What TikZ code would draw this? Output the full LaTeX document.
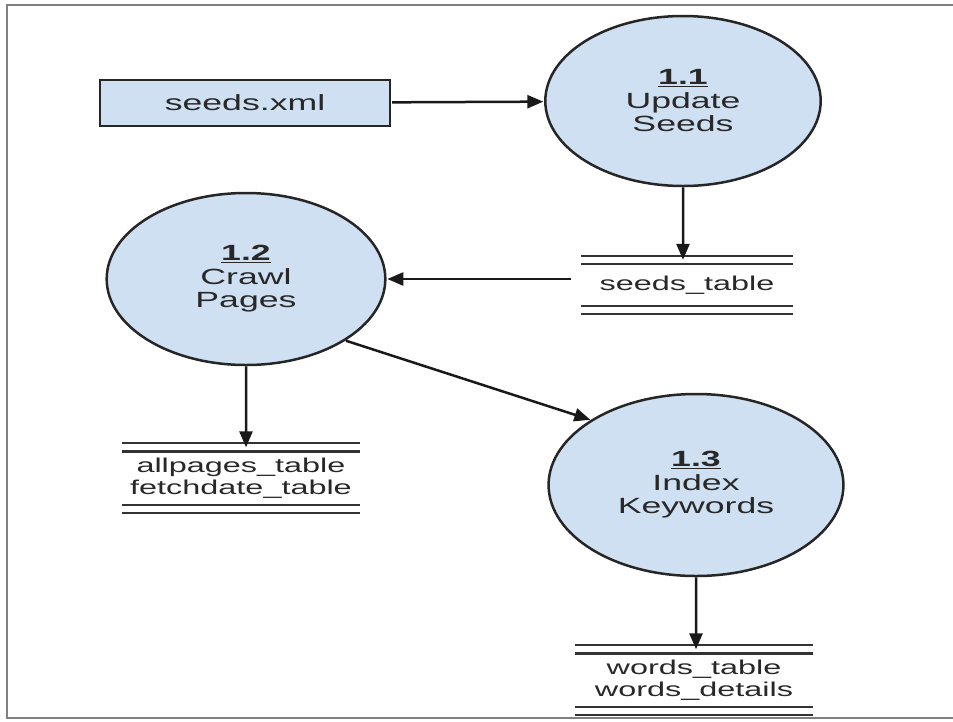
\documentclass[tikz,border=0pt]{standalone}
\usepackage{fontspec}
\setmainfont{Liberation Sans}
\usetikzlibrary{arrows.meta}
\definecolor{procblue}{RGB}{207,224,242}
\definecolor{inkgray}{RGB}{40,40,40}

\begin{document}
\begin{tikzpicture}[x = 1pt, y = -1pt,
	every node/.style = {text = inkgray, font = \fontsize{22}{23.5}\selectfont, xscale = 1.62, transform shape},
	process/.style = {circle, draw = black!85, line width = 2.5pt, fill = procblue, align = center, inner sep = 0pt},
	extent/.style = {rectangle, draw = black!85, line width = 2.5pt, fill = procblue, inner sep = 0pt, minimum width = 179pt, minimum height = 46pt},
	datastore/.style = {rectangle, inner sep = 0pt, align = center, font = \fontsize{20}{21.5}\selectfont},
	storeline/.style = {draw = black!80, double, double distance = 6pt, line width = 2.2pt},
	flow/.style = {draw = black!90, line width = 2.5pt, -{Triangle[length = 16pt, width = 13pt]}}]
					\useasboundingbox (0,0) rectangle (953,721);
					\draw [gray, line width = 2pt] (7,5) rectangle (975,718);

					\begin{scope}
						\node [extent] (xml) at (245,103) {seeds.xml};
						\node [process, minimum size = 170pt] (p11) at (683,101) {\underline{\textbf{1.1}}\\Update\\Seeds};
						\node [process, minimum size = 172pt] (p12) at (246,279) {\underline{\textbf{1.2}}\\Crawl\\Pages};
						\node [process, minimum size = 182pt] (p13) at (696,485) {\underline{\textbf{1.3}}\\Index\\Keywords};
					\end{scope}

					\begin{scope}
						\node [datastore, minimum width = 130pt, minimum height = 50pt] (seedsdb) at (687,285) {seeds\_table};
						\node [datastore, minimum width = 146pt, minimum height = 61pt] (pagesdb) at (241,478) {allpages\_table\\fetchdate\_table};
						\node [datastore, minimum width = 146pt, minimum height = 61pt] (wordsdb) at (694,680) {words\_table\\words\_details};
						\foreach \db in {seedsdb, pagesdb, wordsdb} {
							\draw [storeline] (\db.north west) -- (\db.north east);
							\draw [storeline] (\db.south west) -- (\db.south east);
						}
					\end{scope}

					\begin{scope}
						\draw [flow] (xml) -- (p11);
						\draw [flow] (p11) -- (p11 |- seedsdb.north);
						\draw [flow, shorten <= 10pt] (seedsdb.west |- p12) -- (p12);
						\draw [flow] (p12) -- (p12 |- pagesdb.north);
						\draw [flow] (p12.-45) -- (p13.135);
						\draw [flow] (p13) -- (p13 |- wordsdb.north);
					\end{scope}
				\end{tikzpicture}
\end{document}
